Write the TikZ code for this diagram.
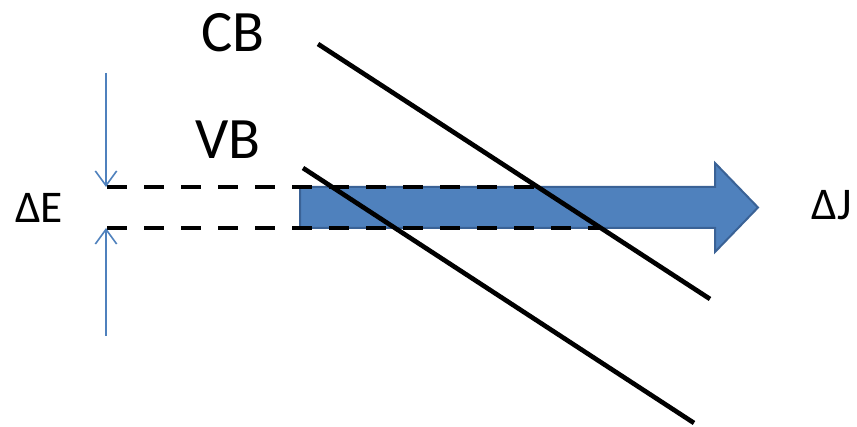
\documentclass[tikz,border=0pt]{standalone}
\usepackage{fontspec}
\setmainfont{Carlito}
\usetikzlibrary{arrows.meta}

\definecolor{fluxblue}{HTML}{4F81BD}
\definecolor{fluxedge}{HTML}{3A6296}

\begin{document}
\begin{tikzpicture}[x=0.75pt, y=-0.75pt,
		bandline/.style={line width=3.5pt, black},
		gapline/.style={line width=3.5pt, dash pattern=on 15pt off 12.75pt},
		gaparrow/.style={fluxblue, line width=1.2pt, -{Straight Barb[length=11pt, width=16pt]}},
		biglabel/.style={font=\fontsize{44}{50}\selectfont, inner sep=0pt},
		sidelabel/.style={font=\fontsize{34}{40}\selectfont, inner sep=0pt}]
	\useasboundingbox (0,0) rectangle (857,427);

	% the flux arrow
	\draw[fill=fluxblue, draw=fluxedge, line width=1.5pt] (300,187) -- (715,187) -- (715,163) -- (758,207.5) -- (715,252) -- (715,228) -- (300,228) -- cycle;

	% gap edges, dashed up to the CB line
	\coordinate (gtop) at (107,187);
	\coordinate (gbot) at (107,228);
	\coordinate (gtopend) at (539,187);
	\coordinate (gbotend) at (602,228);
	\draw[gapline] (gtop) -- (gtopend);
	\draw[gapline] (gbot) -- (gbotend);

	% the two bands
	\coordinate (cbstart) at (318,44);
	\coordinate (cbend) at (710,299);
	\coordinate (vbstart) at (303,168);
	\coordinate (vbend) at (694,423);
	\draw[bandline] (cbstart) -- (cbend);
	\draw[bandline] (vbstart) -- (vbend);

	\node[biglabel] (cb) at (233,33) {CB};
	\node[biglabel] (vb) at (228,140) {VB};

	% gap width
	\coordinate (uptail) at (106,73);
	\coordinate (downtail) at (106,336);
	\draw[gaparrow] (uptail) -- (106,187);
	\draw[gaparrow] (downtail) -- (106,228);
	\node[sidelabel] (de) at (39,208) {ΔE};
	\node[sidelabel] (dj) at (832,205) {ΔJ};
\end{tikzpicture}
\end{document}
